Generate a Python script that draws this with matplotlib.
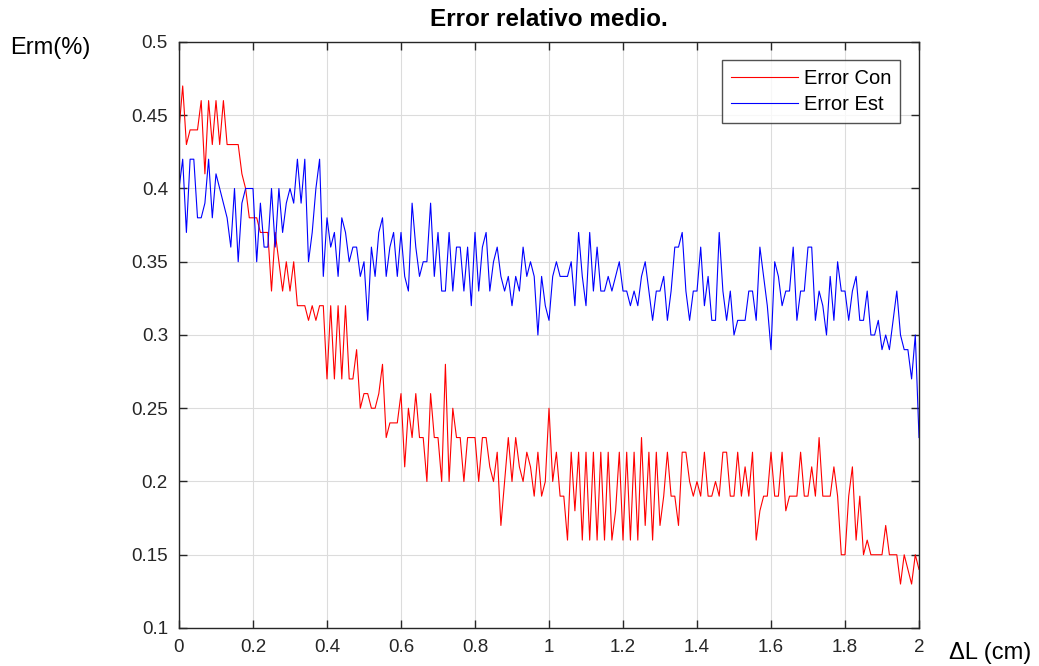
import numpy as np
import matplotlib.pyplot as plt

# muestras cada 0.01 cm, de 0 a 2
dl = np.linspace(0, 2, 201)

error_con = [
    0.44, 0.47, 0.43, 0.44, 0.44, 0.44, 0.46, 0.41, 0.46, 0.43,
    0.46, 0.43, 0.46, 0.43, 0.43, 0.43, 0.43, 0.41, 0.40, 0.38,
    0.38, 0.38, 0.37, 0.37, 0.37, 0.33, 0.37, 0.35, 0.33, 0.35,
    0.33, 0.35, 0.32, 0.32, 0.32, 0.31, 0.32, 0.31, 0.32, 0.32,
    0.27, 0.32, 0.27, 0.32, 0.27, 0.32, 0.27, 0.27, 0.29, 0.25,
    0.26, 0.26, 0.25, 0.25, 0.26, 0.28, 0.23, 0.24, 0.24, 0.24,
    0.26, 0.21, 0.25, 0.23, 0.26, 0.23, 0.23, 0.20, 0.26, 0.23,
    0.23, 0.20, 0.28, 0.20, 0.25, 0.23, 0.23, 0.20, 0.23, 0.23,
    0.23, 0.20, 0.23, 0.23, 0.21, 0.20, 0.22, 0.17, 0.20, 0.23,
    0.20, 0.23, 0.21, 0.20, 0.22, 0.21, 0.19, 0.22, 0.19, 0.20,
    0.25, 0.20, 0.22, 0.19, 0.19, 0.16, 0.22, 0.18, 0.22, 0.16,
    0.22, 0.16, 0.22, 0.16, 0.22, 0.16, 0.22, 0.16, 0.18, 0.22,
    0.16, 0.22, 0.16, 0.22, 0.16, 0.23, 0.17, 0.22, 0.16, 0.22,
    0.17, 0.19, 0.22, 0.19, 0.19, 0.17, 0.22, 0.22, 0.20, 0.19,
    0.20, 0.19, 0.22, 0.19, 0.19, 0.20, 0.19, 0.22, 0.22, 0.19,
    0.19, 0.22, 0.19, 0.21, 0.19, 0.22, 0.16, 0.18, 0.19, 0.19,
    0.22, 0.19, 0.19, 0.22, 0.18, 0.19, 0.19, 0.19, 0.22, 0.19,
    0.19, 0.21, 0.19, 0.23, 0.19, 0.19, 0.19, 0.21, 0.19, 0.15,
    0.15, 0.19, 0.21, 0.16, 0.19, 0.15, 0.16, 0.15, 0.15, 0.15,
    0.15, 0.17, 0.15, 0.15, 0.15, 0.13, 0.15, 0.14, 0.13, 0.15,
    0.14,
]

error_est = [
    0.40, 0.42, 0.37, 0.42, 0.42, 0.38, 0.38, 0.39, 0.42, 0.38,
    0.41, 0.40, 0.39, 0.38, 0.36, 0.40, 0.35, 0.39, 0.40, 0.40,
    0.40, 0.35, 0.39, 0.36, 0.36, 0.40, 0.36, 0.40, 0.37, 0.39,
    0.40, 0.39, 0.42, 0.39, 0.42, 0.35, 0.37, 0.40, 0.42, 0.34,
    0.38, 0.36, 0.37, 0.34, 0.38, 0.37, 0.35, 0.36, 0.36, 0.34,
    0.35, 0.31, 0.36, 0.34, 0.37, 0.38, 0.34, 0.36, 0.37, 0.34,
    0.37, 0.34, 0.33, 0.39, 0.36, 0.34, 0.35, 0.35, 0.39, 0.34,
    0.37, 0.33, 0.33, 0.37, 0.33, 0.36, 0.36, 0.33, 0.36, 0.32,
    0.37, 0.33, 0.36, 0.37, 0.33, 0.35, 0.36, 0.34, 0.33, 0.34,
    0.32, 0.34, 0.33, 0.36, 0.34, 0.35, 0.34, 0.30, 0.34, 0.32,
    0.31, 0.34, 0.35, 0.34, 0.34, 0.34, 0.35, 0.32, 0.37, 0.34,
    0.32, 0.37, 0.33, 0.36, 0.33, 0.33, 0.34, 0.33, 0.34, 0.35,
    0.33, 0.33, 0.32, 0.33, 0.32, 0.34, 0.35, 0.33, 0.31, 0.33,
    0.33, 0.34, 0.31, 0.33, 0.36, 0.36, 0.37, 0.33, 0.31, 0.33,
    0.33, 0.36, 0.32, 0.34, 0.31, 0.31, 0.37, 0.33, 0.31, 0.33,
    0.30, 0.31, 0.31, 0.31, 0.33, 0.33, 0.31, 0.36, 0.34, 0.32,
    0.29, 0.35, 0.34, 0.32, 0.33, 0.33, 0.36, 0.31, 0.33, 0.33,
    0.36, 0.36, 0.31, 0.33, 0.32, 0.30, 0.34, 0.31, 0.35, 0.33,
    0.33, 0.31, 0.33, 0.34, 0.31, 0.31, 0.33, 0.30, 0.30, 0.31,
    0.29, 0.30, 0.29, 0.31, 0.33, 0.30, 0.29, 0.29, 0.27, 0.30,
    0.23,
]

x_ticks = [0, 0.2, 0.4, 0.6, 0.8, 1, 1.2, 1.4, 1.6, 1.8, 2]
y_ticks = [0.1, 0.15, 0.2, 0.25, 0.3, 0.35, 0.4, 0.45, 0.5]

plt.rcParams['font.family'] = ['Liberation Sans', 'DejaVu Sans']

fig = plt.figure(figsize=(10.39, 6.66), dpi=100)
ax = fig.add_axes([179 / 1039, 1 - 628 / 666, 740 / 1039, 586 / 666])

ax.plot(dl, error_con, color='red', lw=0.8, label='Error Con')
ax.plot(dl, error_est, color='blue', lw=0.8, label='Error Est')

ax.set_xlim(0, 2)
ax.set_ylim(0.1, 0.5)
ax.set_xticks(x_ticks)
ax.set_xticklabels([f'{v:g}' for v in x_ticks])
ax.set_yticks(y_ticks)
ax.set_yticklabels([f'{v:g}' for v in y_ticks])

ax.grid(True, color='#dcdcdc', lw=0.8)
ax.set_axisbelow(True)
ax.tick_params(direction='in', top=True, right=True, length=6, width=1,
               labelsize=13.5, colors='#262626', pad=8)
for s in ax.spines.values():
    s.set_color('#262626')
    s.set_linewidth(1)

fig.text(549 / 1039, 1 - 19 / 666, 'Error relativo medio.', fontsize=17.5,
         fontweight='bold', ha='center', va='center')
fig.text(10 / 1039, 1 - 48 / 666, 'Erm(%)', fontsize=17, va='center', ha='left')
fig.text(949 / 1039, 1 - 653 / 666, 'ΔL (cm)', fontsize=17, va='center', ha='left')

leg = ax.legend(loc='upper right', bbox_to_anchor=(0.9745, 0.9695), fontsize=14.5,
                frameon=True, fancybox=False, handlelength=3.3, handletextpad=0.3,
                borderpad=0.45, labelspacing=0.35, borderaxespad=0)
leg.get_frame().set_edgecolor('#262626')
leg.get_frame().set_linewidth(1)

fig.savefig('out.png', dpi=100)
